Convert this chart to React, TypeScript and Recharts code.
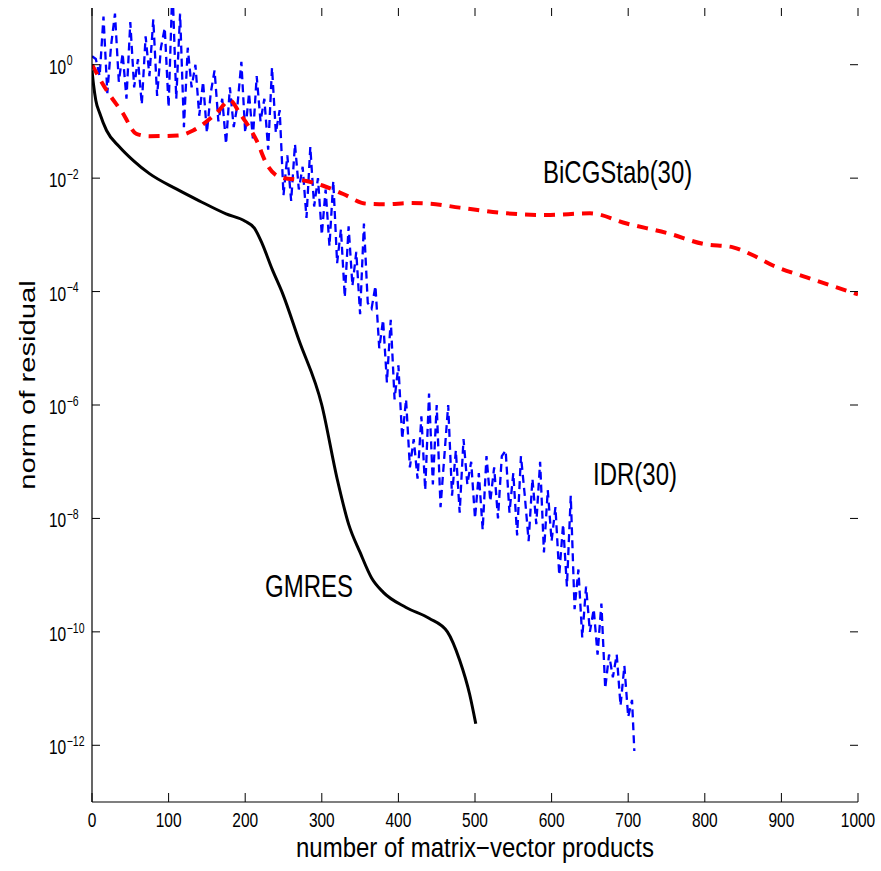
import React from 'react';
import { LineChart, Line, XAxis, YAxis } from 'recharts';

// page / plot geometry
const W = 881;
const H = 871;
const PLOT_LEFT = 92;
const PLOT_RIGHT = 858;
const PLOT_TOP = 8;
const PLOT_BOTTOM = 802;
const STRETCH = 1.33; // the original figure text is a bit tall
const FONT = '"Liberation Sans", Arial, Helvetica, sans-serif';

const xTicks = [0, 100, 200, 300, 400, 500, 600, 700, 800, 900, 1000];
const yTickExps = [-12, -10, -8, -6, -4, -2, 0];

// [matvecs, log10(residual)]
const gmresPoints = [
  [0, -0.1], [2, -0.35], [5, -0.63], [10, -0.85], [19, -1.16], [36, -1.45],
  [54, -1.69], [75, -1.92], [110, -2.19], [140, -2.4], [175, -2.63], [200, -2.76],
  [212, -2.88], [222, -3.15], [235, -3.6], [249, -4.04], [270, -4.85], [300, -6.0],
  [320, -7.3], [335, -8.1], [350, -8.6], [365, -9.05], [380, -9.3], [410, -9.57],
  [440, -9.76], [464, -10.0], [480, -10.5], [493, -11.1], [501, -11.62],
];

const bicgPoints = [
  [0, 0], [19, -0.45], [40, -0.85], [58, -1.22], [75, -1.26], [112, -1.25],
  [132, -1.16], [162, -0.86], [180, -0.63], [193, -0.86], [215, -1.34], [228, -1.75],
  [245, -1.98], [280, -2.05], [301, -2.13], [328, -2.28], [358, -2.45], [384, -2.46],
  [415, -2.44], [441, -2.45], [480, -2.52], [541, -2.62], [593, -2.65], [650, -2.62],
  [698, -2.8], [754, -2.98], [798, -3.16], [837, -3.22], [863, -3.36], [889, -3.54],
  [933, -3.75], [1000, -4.05],
];

const idrPoints = [
  [0, 0.15], [5, 0.1], [10, -0.2], [15, 0.85], [20, -0.5], [25, 0.35], [30, 0.9],
  [35, -0.3], [40, 0.2], [45, -0.6], [50, 0.75], [55, -0.4], [60, 0.1], [65, -0.7],
  [70, 0.5], [75, -0.2], [80, 0.8], [85, -0.55], [90, 0.3], [95, 0.65], [100, -0.75],
  [105, 1.4], [110, -0.6], [115, 0.9], [120, -1.1], [125, 0.3], [130, -0.4],
  [135, 0.0], [140, -0.9], [145, -0.3], [150, -1.2], [155, -0.5], [160, -0.1],
  [165, -1.0], [170, -0.6], [175, -1.4], [180, -0.4], [185, -1.1], [190, -0.7],
  [195, 0.05], [200, -1.2],
  [205, -0.5], [210, -1.3], [215, -0.2], [220, -1.0], [225, -0.6], [230, -1.5],
  [235, -0.05], [240, -1.2], [245, -0.8], [250, -2.3],
  [255, -1.6], [260, -2.4], [265, -1.4], [270, -2.2], [275, -1.8], [280, -2.7],
  [285, -1.45], [290, -2.5], [295, -2.0], [300, -3.0],
  [305, -2.2], [310, -3.2], [315, -2.05], [320, -3.5], [325, -2.9], [330, -4.1],
  [335, -2.85], [340, -3.9], [345, -3.3], [350, -4.4], [355, -2.8], [360, -4.2],
  [365, -4.3], [370, -3.9], [375, -5.0], [380, -4.5], [385, -5.6], [390, -4.5],
  [395, -5.9], [400, -5.3], [405, -6.6], [410, -5.9],
  [415, -7.1], [420, -6.6], [425, -7.3], [430, -6.2], [435, -7.5], [440, -5.8],
  [445, -7.4], [450, -6.0], [455, -7.8], [460, -6.9],
  [465, -6.0], [470, -7.6], [475, -6.8], [480, -7.9], [485, -6.6], [490, -7.4],
  [495, -7.0], [500, -8.0], [505, -7.2], [510, -8.2], [515, -6.9], [520, -7.7],
  [525, -7.1], [530, -8.0], [535, -6.9], [540, -6.8], [545, -7.9], [550, -7.2],
  [555, -8.3], [560, -6.9], [565, -7.6], [570, -8.4], [575, -7.3], [580, -8.1],
  [585, -7.0], [590, -8.6], [595, -7.5], [600, -8.4], [605, -7.8], [610, -9.0],
  [615, -8.1], [620, -9.2], [625, -7.6], [630, -9.6],
  [635, -8.9], [640, -10.1], [645, -9.2], [650, -10.0], [655, -9.6], [660, -10.4],
  [665, -9.5], [670, -11.0], [675, -10.4], [680, -10.8], [685, -10.4], [690, -11.3],
  [695, -10.6], [700, -11.5], [705, -11.2], [708, -12.1],
];

const toRows = (pts: number[][]) => pts.map(([x, e]) => ({ x, y: Math.pow(10, e) }));

const gmresData = toRows(gmresPoints);
const bicgData = toRows(bicgPoints);
const idrData = toRows(idrPoints);
const yTicks = yTickExps.map((e) => Math.pow(10, e));

const YTick = (props: any) => {
  const { y, payload } = props;
  const exp = Math.round(Math.log10(payload.value));
  const sup = exp < 0 ? `\u2212${-exp}` : `${exp}`;
  return (
    <g>
      <line x1={PLOT_LEFT} x2={PLOT_LEFT + 8} y1={y} y2={y} stroke="#000" strokeWidth={1} />
      <line x1={PLOT_RIGHT} x2={PLOT_RIGHT - 8} y1={y} y2={y} stroke="#000" strokeWidth={1} />
      <g transform={`translate(49, ${y + 9}) scale(1, ${STRETCH})`}>
        <text x={0} y={0} fontFamily={FONT} fontSize={15.5} fill="#000">10</text>
        <text x={17.7} y={-6.2} fontFamily={FONT} fontSize={10.5} fill="#000">{sup}</text>
      </g>
    </g>
  );
};

const XTick = (props: any) => {
  const { x, payload } = props;
  return (
    <g>
      <line x1={x} x2={x} y1={PLOT_BOTTOM} y2={PLOT_BOTTOM - 9} stroke="#000" strokeWidth={1} />
      <line x1={x} x2={x} y1={PLOT_TOP} y2={PLOT_TOP + 8} stroke="#000" strokeWidth={1} />
      <g transform={`translate(${x}, 827) scale(1, 1.25)`}>
        <text x={0} y={0} textAnchor="middle" fontFamily={FONT} fontSize={15.5} fill="#000">
          {payload.value}
        </text>
      </g>
    </g>
  );
};

const Note = ({ x, y, children, anchor = 'start', size = 24, stretch = STRETCH }: any) => (
  <g transform={`translate(${x}, ${y}) scale(1, ${stretch})`}>
    <text x={0} y={0} textAnchor={anchor} fontFamily={FONT} fontSize={size} fill="#000">
      {children}
    </text>
  </g>
);

export default function App() {
  return (
    <div style={{ position: 'absolute', left: 0, top: 0, width: W, height: H, background: '#fff' }}>
      <LineChart
        width={W}
        height={H}
        margin={{ top: PLOT_TOP, right: W - PLOT_RIGHT, left: 0, bottom: 0 }}
      >
        <XAxis
          dataKey="x"
          type="number"
          domain={[0, 1000]}
          ticks={xTicks}
          height={H - PLOT_BOTTOM}
          tick={<XTick />}
          tickLine={false}
          axisLine={{ stroke: '#000', strokeWidth: 1.2 }}
          allowDataOverflow
        />
        <XAxis
          xAxisId="top"
          orientation="top"
          type="number"
          domain={[0, 1000]}
          height={0}
          tick={false}
          tickLine={false}
          axisLine={{ stroke: '#000', strokeWidth: 1.2 }}
        />
        <YAxis
          type="number"
          scale="log"
          domain={[1e-13, 10]}
          ticks={yTicks}
          width={PLOT_LEFT}
          tick={<YTick />}
          tickLine={false}
          axisLine={{ stroke: '#000', strokeWidth: 1.2 }}
          allowDataOverflow
        />
        <YAxis
          yAxisId="right"
          orientation="right"
          type="number"
          domain={[0, 1]}
          width={0}
          tick={false}
          tickLine={false}
          axisLine={{ stroke: '#000', strokeWidth: 1.2 }}
        />
        <Line
          data={idrData}
          dataKey="y"
          type="linear"
          stroke="#0000ff"
          strokeWidth={2.3}
          strokeDasharray="8 5"
          dot={false}
          activeDot={false}
          isAnimationActive={false}
        />
        <Line
          data={bicgData}
          dataKey="y"
          type="monotone"
          stroke="#ff0000"
          strokeWidth={4}
          strokeDasharray="11 8"
          dot={false}
          activeDot={false}
          isAnimationActive={false}
        />
        <Line
          data={gmresData}
          dataKey="y"
          type="monotone"
          stroke="#000000"
          strokeWidth={3}
          dot={false}
          activeDot={false}
          isAnimationActive={false}
        />
      </LineChart>
      <svg
        width={W}
        height={H}
        style={{ position: 'absolute', left: 0, top: 0, pointerEvents: 'none' }}
      >
        <Note x={543} y={183}>BiCGStab(30)</Note>
        <Note x={593} y={485}>IDR(30)</Note>
        <Note x={265} y={597}>GMRES</Note>
        <Note x={475} y={857} anchor="middle" stretch={1.12}>
          number of matrix−vector products
        </Note>
        <g transform={`translate(35, 385) scale(1, ${STRETCH}) rotate(-90)`}>
          <text x={0} y={0} textAnchor="middle" fontFamily={FONT} fontSize={22} fill="#000">
            norm of residual
          </text>
        </g>
      </svg>
    </div>
  );
}
